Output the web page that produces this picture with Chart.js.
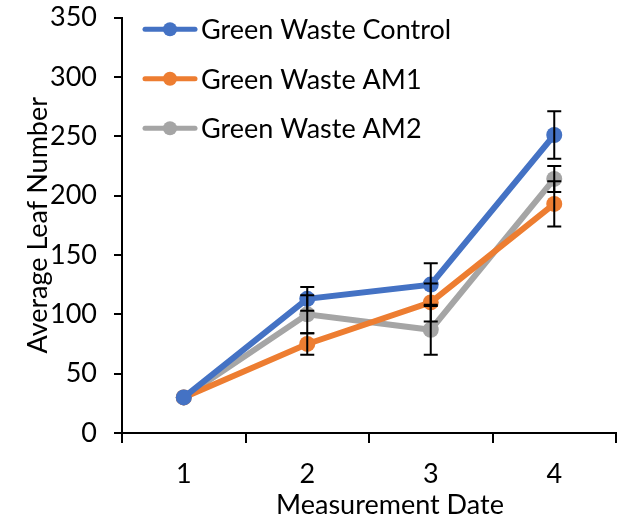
<!DOCTYPE html>
<html><head><meta charset="utf-8">
<script src="https://cdn.jsdelivr.net/npm/chart.js@4/dist/chart.umd.min.js"></script>
<style>html,body{margin:0;padding:0;background:#fff}#w{width:625px;height:524px}</style>
</head><body><div id="w"><canvas id="c"></canvas></div>
<script>
const categories = ['1','2','3','4'];
const seriesNames = ['Green Waste Control','Green Waste AM1','Green Waste AM2'];
const controlValues = [30, 113, 125, 251];
const am1Values = [30, 75, 110, 193];
const am2Values = [30, 100, 87, 214];
const controlErrors = [0, 10, 18, 20];
const am1Errors = [0, 9, 16, 19];
const am2Errors = [0, 16, 21, 11];
const colors = ['#4472C4','#ED7D31','#A5A5A5'];
const xTitle = 'Measurement Date';
const FONT = 'Lato, "Open Sans", sans-serif';
const FS = 27;

const errorBars = {
  id: 'errorBars',
  afterDatasetsDraw(chart) {
    const ctx = chart.ctx, y = chart.scales.y;
    ctx.save();
    ctx.strokeStyle = '#000'; ctx.lineWidth = 2;
    chart.data.datasets.forEach((ds, i) => {
      const meta = chart.getDatasetMeta(i);
      meta.data.forEach((pt, j) => {
        const e = ds.errors[j];
        if (!e) return;
        const v = ds.data[j];
        const yt = y.getPixelForValue(v + e), yb = y.getPixelForValue(v - e);
        ctx.beginPath();
        ctx.moveTo(pt.x, yt); ctx.lineTo(pt.x, yb);
        ctx.moveTo(pt.x - 7, yt); ctx.lineTo(pt.x + 7, yt);
        ctx.moveTo(pt.x - 7, yb); ctx.lineTo(pt.x + 7, yb);
        ctx.stroke();
      });
    });
    ctx.restore();
  }
};

const innerLegend = {
  id: 'innerLegend',
  afterDraw(chart) {
    const ctx = chart.ctx;
    ctx.save();
    chart.data.datasets.forEach((ds, i) => {
      const yy = 29.3 + i * 49.5;
      ctx.strokeStyle = ds.borderColor; ctx.lineWidth = 5; ctx.lineCap = 'round';
      ctx.beginPath(); ctx.moveTo(145, yy); ctx.lineTo(195, yy); ctx.stroke();
      ctx.fillStyle = ds.borderColor;
      ctx.beginPath(); ctx.arc(170, yy, 7, 0, Math.PI * 2); ctx.fill();
      ctx.fillStyle = '#000'; ctx.font = FS + 'px ' + FONT;
      ctx.textBaseline = 'middle'; ctx.textAlign = 'left';
      ctx.fillText(ds.label, 201, yy + 1);
    });
    const xs = chart.scales.x;
    ctx.fillStyle = '#000'; ctx.font = FS + 'px ' + FONT;
    ctx.textAlign = 'center'; ctx.textBaseline = 'middle';
    ctx.fillText(xTitle, (xs.left + xs.right) / 2 + 21, 505);
    ctx.restore();
  }
};

const mk = (i, data, errs) => ({
  label: seriesNames[i], data, errors: errs,
  borderColor: colors[i], backgroundColor: colors[i],
  pointBackgroundColor: colors[i], pointBorderColor: colors[i],
  borderWidth: 6, pointRadius: 8, pointHoverRadius: 8, pointBorderWidth: 0, tension: 0
});

new Chart(document.getElementById('c'), {
  type: 'line',
  data: {
    labels: categories,
    datasets: [mk(0, controlValues, controlErrors), mk(1, am1Values, am1Errors), mk(2, am2Values, am2Errors)]
  },
  options: {
    responsive: true, maintainAspectRatio: false, animation: false,
    devicePixelRatio: 1,
    layout: { autoPadding: false, padding: { top: 17.5, right: 9, left: 0, bottom: 0 } },
    plugins: { legend: { display: false }, tooltip: { enabled: false } },
    scales: {
      x: {
        offset: true,
        grid: { offset: true, drawOnChartArea: false, color: '#000', tickLength: 10, lineWidth: 2 },
        border: { color: '#000', width: 2 },
        ticks: { color: '#000', font: { size: FS, family: FONT }, padding: 15 },
        afterFit(s) { s.height = 91; s.paddingLeft = 0; s.paddingRight = 0; }
      },
      y: {
        min: 0, max: 350,
        ticks: { stepSize: 50, color: '#000', font: { size: FS, family: FONT }, padding: 17 },
        grid: { drawOnChartArea: false, color: '#000', tickLength: 8, lineWidth: 2 },
        border: { color: '#000', width: 2 },
        title: { display: true, text: 'Average Leaf Number', color: '#000', font: { size: FS, family: FONT }, padding: { top: 22, bottom: 0 } },
        afterFit(s) { s.width = 122; s.paddingTop = 0; s.paddingBottom = 0; }
      }
    }
  },
  plugins: [errorBars, innerLegend]
});
</script></body></html>
